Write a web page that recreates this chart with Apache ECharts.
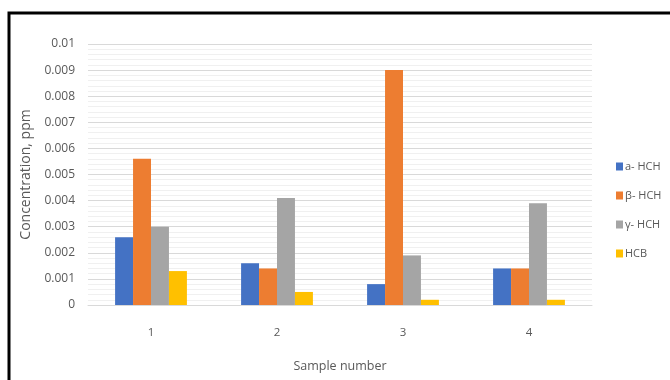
<!DOCTYPE html>
<html>
<head>
<meta charset="utf-8">
<script src="https://cdn.jsdelivr.net/npm/echarts@6/dist/echarts.min.js"></script>
<style>
  html, body { margin: 0; padding: 0; background: #fff; }
  #chart { width: 670px; height: 380px; }
</style>
</head>
<body>
<div id="chart"></div>
<script>
// Sample categories and measured concentrations (ppm)
const samples = ['1', '2', '3', '4'];
const seriesNames = ['a- HCH', 'β- HCH', 'γ- HCH', 'HCB'];
const alphaHCH = [0.0026, 0.0016, 0.0008, 0.0014];
const betaHCH  = [0.0056, 0.0014, 0.0090, 0.0014];
const gammaHCH = [0.0030, 0.0041, 0.0019, 0.0039];
const hcb      = [0.0013, 0.0005, 0.0002, 0.0002];
const colors = ['#4472C4', '#ED7D31', '#A5A5A5', '#FFC000'];

const values = [alphaHCH, betaHCH, gammaHCH, hcb];
const font = "'Open Sans', 'Liberation Sans', sans-serif";
const textColor = '#595959';

const chart = echarts.init(document.getElementById('chart'));
chart.setOption({
  animation: false,
  textStyle: { fontFamily: font },
  graphic: [{
    type: 'rect',
    shape: { x: 9, y: 13, width: 700, height: 400 },
    style: { fill: 'none', stroke: '#000', lineWidth: 3 },
    silent: true
  }],
  grid: { left: 88, right: 78, top: 44, bottom: 75 },
  legend: {
    orient: 'vertical',
    left: 611,
    top: 156,
    itemWidth: 7,
    itemHeight: 8,
    itemGap: 18,
    icon: 'rect',
    textStyle: { color: textColor, fontSize: 11, fontFamily: font, padding: [0, 0, 0, -3] },
    data: seriesNames
  },
  xAxis: {
    type: 'category',
    data: samples,
    name: 'Sample number',
    nameLocation: 'middle',
    nameGap: 55,
    nameTextStyle: { color: textColor, fontSize: 12.5, fontFamily: font },
    axisLine: { lineStyle: { color: '#d9d9d9', width: 1 } },
    axisTick: { show: false },
    axisLabel: { color: textColor, fontSize: 11.5, margin: 22 }
  },
  yAxis: {
    type: 'value',
    min: 0,
    max: 0.01,
    interval: 0.001,
    name: 'Concentration, ppm',
    nameLocation: 'middle',
    nameGap: 53,
    nameTextStyle: { color: textColor, fontSize: 14, fontFamily: font },
    axisLabel: {
      color: textColor,
      fontSize: 12,
      margin: 13,
      formatter: v => v === 0 ? '0' : String(parseFloat(v.toFixed(4)))
    },
    splitLine: { lineStyle: { color: '#d9d9d9', width: 1 } },
    minorTick: { show: false, splitNumber: 5 },
    minorSplitLine: { show: true, lineStyle: { color: '#f0f0f0', width: 1 } }
  },
  series: seriesNames.map((name, i) => ({
    name: name,
    type: 'bar',
    data: values[i],
    itemStyle: { color: colors[i] },
    barGap: '0%',
    barCategoryGap: '43%'
  }))
});
</script>
</body>
</html>
